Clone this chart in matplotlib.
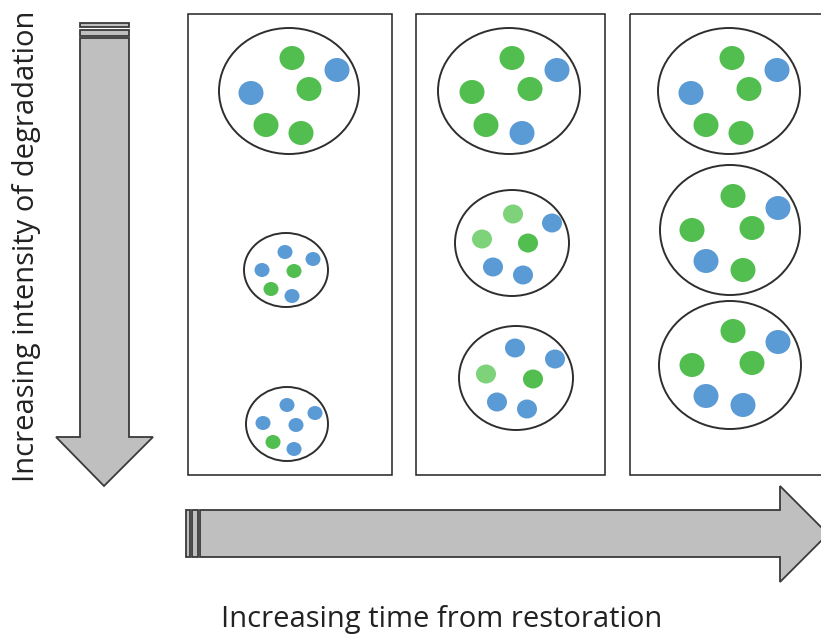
import matplotlib
matplotlib.use("Agg")
import matplotlib.pyplot as plt
from matplotlib.patches import Ellipse, Rectangle, Polygon

# ---- data (diagram layout, pixel units) ----
panel_x = [188, 416, 630]
panel_w = [204, 189, 194]
panel_top, panel_bottom = 14, 475

# circles: (cx, cy, rx, ry, dot_rx, dot_ry)
circles = [
    (289, 91, 70, 63, 12.5, 12),
    (286, 270, 42, 37, 7.5, 7),
    (287, 424, 41, 37, 7.5, 7),
    (509, 91, 71, 63, 12.5, 12),
    (512, 243, 57, 53, 10, 9.5),
    (516, 378, 57, 52, 10, 9.5),
    (729, 91, 71, 63, 12.5, 12),
    (730, 230, 70, 65, 12.5, 12),
    (730, 365, 71, 64, 12.5, 12),
]
# dots per circle: list of (x, y, kind) ; kind: g=green, b=blue, l=light green
dots = [
    [(292, 58, 'g'), (337, 70, 'b'), (251, 93, 'b'), (309, 89, 'g'), (266, 125, 'g'), (301, 133, 'g')],
    [(285, 252, 'b'), (313, 259, 'b'), (262, 270, 'b'), (294, 271, 'g'), (271, 289, 'g'), (292, 296, 'b')],
    [(287, 405, 'b'), (315, 413, 'b'), (263, 423, 'b'), (296, 425, 'b'), (273, 442, 'g'), (294, 449, 'b')],
    [(512, 58, 'g'), (557, 70, 'b'), (472, 92, 'g'), (530, 89, 'g'), (486, 125, 'g'), (522, 133, 'b')],
    [(513, 214, 'l'), (552, 223, 'b'), (482, 239, 'l'), (528, 243, 'g'), (493, 267, 'b'), (523, 275, 'b')],
    [(515, 348, 'b'), (555, 359, 'b'), (486, 374, 'l'), (533, 379, 'g'), (497, 402, 'b'), (527, 409, 'b')],
    [(732, 58, 'g'), (777, 70, 'b'), (691, 93, 'b'), (749, 89, 'g'), (706, 125, 'g'), (741, 133, 'g')],
    [(733, 196, 'g'), (778, 208, 'b'), (692, 230, 'g'), (752, 228, 'g'), (706, 261, 'b'), (743, 270, 'g')],
    [(733, 331, 'g'), (778, 342, 'b'), (692, 365, 'g'), (752, 363, 'g'), (706, 396, 'b'), (743, 405, 'b')],
]
dot_colors = {'g': '#52BE4F', 'b': '#5B9BD5', 'l': '#7ED37A'}

ylabel = "Increasing intensity of degradation"
xlabel = "Increasing time from restoration"

# ---- figure ----
fig = plt.figure(figsize=(8.21, 6.42), dpi=100)
ax = fig.add_axes([0, 0, 1, 1])
ax.set_xlim(0, 821)
ax.set_ylim(642, 0)
ax.axis('off')

edge = '#3a3a3a'
fill = '#BFBFBF'

# panels
for x, w in zip(panel_x, panel_w):
    ax.add_patch(Rectangle((x, panel_top), w, panel_bottom - panel_top,
                           fill=False, edgecolor='#222222', lw=1.1))

# circles and dots
for (cx, cy, rx, ry, drx, dry), ds in zip(circles, dots):
    ax.add_patch(Ellipse((cx, cy), 2 * rx, 2 * ry, facecolor='white',
                         edgecolor='#2e2e2e', lw=1.4))
    for (x, y, k) in ds:
        ax.add_patch(Ellipse((x, y), 2 * drx, 2 * dry, facecolor=dot_colors[k],
                             edgecolor='none'))

# vertical arrow (down)
ax.add_patch(Rectangle((80, 23), 49, 4, facecolor=fill, edgecolor=edge, lw=1.3))
ax.add_patch(Rectangle((80, 30), 49, 6, facecolor=fill, edgecolor=edge, lw=1.3))
ax.add_patch(Polygon([(80, 38), (129, 38), (129, 437), (153, 437), (104, 486),
                      (56, 437), (80, 437)], closed=True, facecolor=fill,
                     edgecolor=edge, lw=1.3))

# horizontal arrow (right)
ax.add_patch(Rectangle((186, 510), 4, 47, facecolor=fill, edgecolor=edge, lw=1.3))
ax.add_patch(Rectangle((192, 510), 6, 47, facecolor=fill, edgecolor=edge, lw=1.3))
ax.add_patch(Polygon([(200, 510), (780, 510), (780, 486), (828, 534), (780, 582),
                      (780, 557), (200, 557)], closed=True, facecolor=fill,
                     edgecolor=edge, lw=1.3))

# labels
ax.text(27, 246, ylabel, rotation=90, ha='center', va='center',
        fontsize=21, color='#222222', family=['Open Sans', 'DejaVu Sans'])
ax.text(442, 619, xlabel, ha='center', va='center',
        fontsize=21, color='#222222', family=['Open Sans', 'DejaVu Sans'])

fig.savefig('out.png', dpi=100)
